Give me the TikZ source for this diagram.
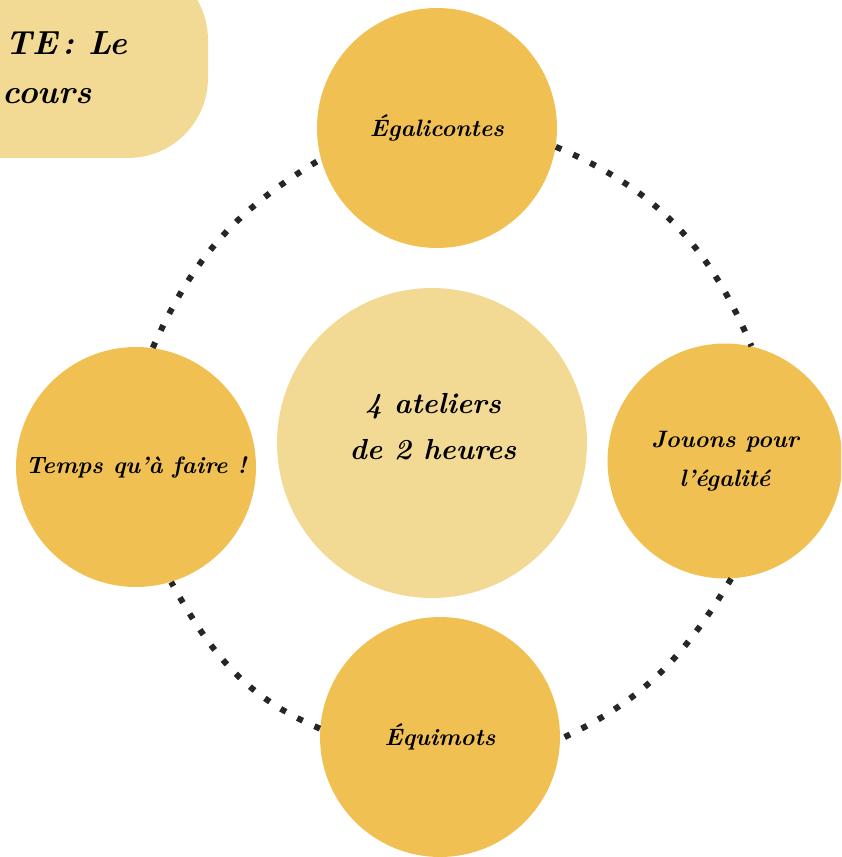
\documentclass[tikz,border=0pt]{standalone}
\usepackage{fontspec}
\definecolor{mygold}{RGB}{240,193,82}
\definecolor{mylight}{RGB}{243,218,148}

\begin{document}
\begin{tikzpicture}[x=0.02cm, y=-0.02cm,
    atelier/.style={circle, fill=mygold, minimum size=4.8cm, inner sep=0pt, align=center,
      font=\fontsize{13.5}{22}\selectfont\bfseries\itshape},
    titre/.style={inner sep=0pt, anchor=base east, font=\fontsize{19}{23}\selectfont\bfseries\itshape},
    dotline/.style={line width=0.12cm, dash pattern=on 0.12cm off 0.26cm, color=black!85}]
  \useasboundingbox (0,0) rectangle (841,857);
  \clip (0,0) rectangle (841,857);
  % bandeau du titre
  \fill[color=mylight, rounded corners=1.6cm] (-100,-40) rectangle (208,158);
  \node[titre] (titre) at (128,55) {TE\,: Le};
  \node[titre] (soustitre) at (92,104) {cours};
  % cercle central
  \node[circle, fill=mylight, minimum size=6.2cm, inner sep=0pt] (centre) at (432,443) {};
  \node[align=center, font=\fontsize{16.5}{26}\selectfont\bfseries\itshape] (duree) at (433,427) {4 ateliers\\de 2 heures};
  % les quatre ateliers
  \node[atelier] (egal) at (437,128) {Égalicontes};
  \node[atelier, minimum size=4.7cm] (jouons) at (725,461) {Jouons pour\\l’égalité};
  \node[atelier] (equi) at (440,737) {Équimots};
  \node[atelier] (temps) at (136,467) {Temps qu’à faire !};
  \draw[dotline] (egal.-9) to[out=-23, in=113] (jouons.77);
  \draw[dotline] (jouons.-87) to[out=-121, in=25] (equi.-1);
  \draw[dotline] (equi.176) to[out=157, in=-61] (temps.-73);
  \draw[dotline] (temps.82) to[out=66, in=211] (egal.195);
\end{tikzpicture}
\end{document}
